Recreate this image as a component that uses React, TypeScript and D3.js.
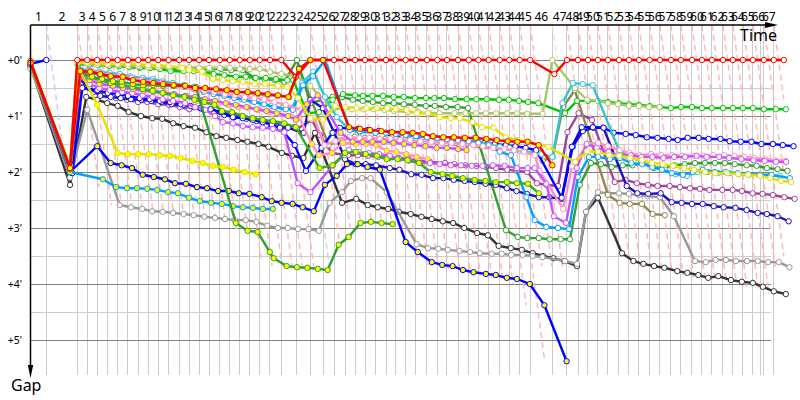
import React from 'react';
import * as d3 from 'd3';

// leader's lap times, minutes
const lapTimes = [
  2.11, 4.13, 1.33, 1.33, 1.39, 1.33, 1.37, 1.37, 1.33, 1.33,
  1.39, 1.41, 1.33, 1.33, 1.33, 1.43, 1.33, 1.33, 1.33, 1.33,
  1.37, 1.52, 2.08, 1.79, 1.68, 1.47, 1.47, 1.33, 1.33, 1.39,
  1.41, 1.29, 1.33, 1.37, 1.47, 1.39, 1.28, 1.47, 1.43, 1.29,
  1.37, 1.47, 1.29, 1.37, 1.4, 2.96, 1.95, 1.47, 1.33, 1.33,
  1.33, 1.47, 1.33, 1.33, 1.43, 1.37, 1.47, 1.33, 1.47, 1.33,
  1.33, 1.47, 1.33, 1.33, 1.33, 1.47, 1.33, 1.33,
];
const lapLabelCount = 67;
const strayGridTime = 97.36;
const gapTicks = [0, 1, 2, 3, 4, 5];
const gapHalfTicks = [0.5, 1.5, 2.5, 3.5, 4.5];
const openingLag = 3.16;
const leaderDashColors: Record<number, string> = { 1: '#ccccff', 23: '#c4e4c4', 46: '#e4eccc' };

const redW = [
  .02, 1.93, 0, 0, 0, 0, 0, 0, 0, 0,
  0, 0, 0, 0, 0, 0, 0, 0, 0, 0,
  0, 0, 0, .3, 0, 0, 0, 0, 0, 0,
  0, 0, 0, 0, 0, 0, 0, 0, 0, 0,
  0, 0, 0, 0, 0, 0, .25, 0, 0, 0,
  0, 0, 0, 0, 0, 0, 0, 0, 0, 0,
  0, 0, 0, 0, 0, 0, 0, 0, 0,
];
const redWLag = [[23, -.15], [24, 0], [46, .27], [47, 0]];

const redY = [
  .05, 1.93, .2, .21, .25, .29, .3, .36, .39, .41,
  .43, .45, .46, .5, .5, .52, .54, .57, .57, .59,
  .61, .63, .66, .16, 0, 0, null, 1.2, 1.23, 1.25,
  1.27, 1.29, 1.29, 1.3, 1.32, 1.36, 1.38, 1.38, 1.39, 1.39,
  1.41, 1.43, 1.45, 1.46, 1.46, 1.52, 1.88,
];
const redYLag = [[2, .4], [6, .67], [12, .8], [15, .93], [18, 1.07], [22, .93], [23, .27], [24, 0], [27, .53], [28, .67], [30, .8], [32, .93], [35, .8], [37, .93], [40, 1.07], [45, 1.13], [46, 0]];

const oliveLight = [
  .16, 1.9, .05, .07, .09, .09, .09, .11, .11, .13,
  .13, .13, .13, .13, .14, .14, .14, .14, .16, .16,
  .16, .21, .25, .29, .46, .71, .89, .86, .88, .88,
  .88, .89, .91, .93, .93, .95, .95, .95, .95, .95,
  .95, .95, .95, .95, .96, .96, 0, .5, .71, .73,
  .77, .79, .82, .82, .84, .84,
];
const oliveLightLag = [[2, 0], [26, -.15], [27, -.4], [29, -.2], [33, .3], [37, 1], [45, 1.67], [46, 0], [47, 1.07], [48, 1.2], [49, 1.33]];

const limeW = [
  .05, 1.9, .07, .07, .07, .07, .09, .09, .13, .14,
  .16, .2, .2, .2, .21, .25, .27, .3, .3, .32,
  .32, .34, .36, .36, .95, .93, .71, .61, .63, .64,
  .64, .64, .66, .66, .68, .68, .68, .68, .7, .7,
  .7, .7, .71, .71, .73, .75, .77, .95, .73, .73,
  .73, .75, .77, .79, .8, .82, .84, .86, .84, .84,
  .86, .86, .86, .86, .86, .86, .88, .88, .88,
];
const limeWLag = [[2, 0], [7, .27], [12, .6], [17, .8], [23, -.5], [24, -.4], [25, -.53], [26, -.2], [27, -.27], [28, 0], [29, -.27], [30, -.4], [32, -.27], [34, -.13], [36, -.4], [39, -.27], [42, -.1], [45, -.3], [46, -1.87], [47, -.27], [48, -.13], [49, 0], [67, .27]];

const limeY = [
  .05, 1.95, .25, .3, .36, .41, .45, .48, .52, .55,
  .59, .63, .66, .71, .75, .8, .91, .93, 1, 1.04,
  1.07, 1.09, 1.13, 1.2, null, 1.93, 1.88, 1.66, 1.64, 1.68,
  1.71, 1.77, 1.77, 1.79, 1.84, 2, 2.04, 2.07, 2.11, 2.14,
  2.16, 2.18, 2.18, 2.2, 2.21, 2.38,
];
const limeYLag = [[2, .4], [6, .6], [12, .7], [16, .3], [18, .4], [23, -.15], [25, -.45], [26, -.2], [27, 0], [28, .1], [30, .2], [31, .1], [32, .25], [34, .4], [35, .5], [36, .7], [38, .65], [39, .8], [40, .95], [43, 1], [44, 1.1], [45, 1.15]];

const darkGreenW = [
  .05, 1.9, .07, .09, .09, .11, .11, .13, .14, .14,
  .16, .16, .16, .16, .16, .16, .16, .18, .18, .32,
  .34, .36, .39, 0, .77, .71, .66, .66, .71, .73,
  .75, .77, .77, .79, .8, .82, .82, .84, .84, .86,
  null, 3.04, 3.16, 3.18, 3.18, 3.2, 3.2, 3.2, 2.23, 1.84,
  1.86, 1.91, 1.88, 1.88, 1.84, 1.93, 1.91, 1.88, 1.86, 1.84,
  1.84, 1.84, 1.84, 1.86, 1.88, 1.89, 1.93, 1.95, 1.98,
];
const darkGreenWLag = [[2, .2], [18, .4], [19, .65], [22, .4], [23, 0], [24, 0], [26, -.2], [27, -.4], [28, -.3], [30, -.35], [31, -.4], [32, -.25], [34, -.15], [36, -.35], [37, -.15], [38, -.05], [39, -.1], [41, 2.3], [42, 2.4], [43, 2.4], [44, 2.55], [45, 2.6], [46, 1.1], [47, .4], [48, .25], [49, .4], [51, .5], [54, .65], [55, .55], [56, .65], [57, .5], [59, .4], [62, .25], [64, .5], [66, .4], [67, .5]];

const darkGreenY = [
  .05, 1.95, .21, .3, .34, .38, .39, .43, .45, .45,
  .46, .46, .46, .48, null, null, null, 2.91, 3.05, 3.07,
  3.43, 3.54, 3.68, 3.7, 3.71, 3.73, 3.75, 3.3, 3.16, 2.91,
  2.89, 2.91, 2.93,
];
const darkGreenYLag = [[2, .3], [3, .65], [5, .7], [6, .55], [7, .65], [11, .7], [12, .65], [13, .9], [17, .8], [18, 1.05], [20, 1.35], [21, .5], [22, .7], [23, 0], [24, -.4], [25, -.7], [26, -.85], [29, -.6], [32, -.4]];

const yellowW = [
  .03, 1.9, .05, .05, .05, .07, .07, .07, .07, .09,
  .09, .11, .14, .18, .21, .34, .36, .38, .39, .43,
  .43, .46, .48, .68, 1.04, 1.07, .82, .84, .86, .86,
  .86, .86, .88, .89, .95, .95, 1.02, 1.04, 1.04, 1.11,
  1.2, 1.21, 1.38, 1.43, 1.46, 1.52, 1.55, 1.82, 1.63, 1.64,
  1.7, 1.71, 1.75, 1.79, 1.84, 1.86, 1.89, 1.93, 1.96, 2,
  2.02, 2.02, 2.04, 2.05, 2.07, 2.11, 2.16, 2.18,
];
const yellowWLag = [[2, 0], [12, .4], [13, 0], [14, .4], [15, .53], [16, .4], [19, .67], [21, 1.07], [22, .8], [23, .13], [24, 0], [26, .13], [27, 0], [28, .2], [32, 0], [33, .13], [36, .3], [37, .5], [38, .25], [39, .5], [41, .65], [42, .8], [43, 1.1], [45, 1.13], [46, -.53], [47, 1.07], [48, 1.2], [49, 1.33], [50, 1.5], [53, 1.75], [61, 2.05], [64, 2.3]];

const yellowY = [
  .05, 1.9, .2, null, .8, null, 1.66, 1.68, 1.68, 1.68,
  1.7, 1.71, 1.75, 1.8, 1.84, 1.89, 1.91, 1.96, 2, 2.04,
];
const yellowYLag = [[2, .4], [4, 0], [9, .1], [10, .2], [13, .4], [14, .5], [16, .4], [17, .5], [18, .65], [19, .8]];

const brown = [
  .1, 1.9, .2, .23, .27, .3, .32, .36, .39, .41,
  .45, .46, .48, .52, .52, .54, .55, .57, .59, .61,
  .63, .64, .66, .14, null, 1.52, 1.43, 1.37, 1.39, 1.39,
  1.41, 1.41, 1.43, 1.43, 1.45, 1.46, 1.48, 1.48, 1.5, 1.52,
  1.54, 1.55, 1.57, 1.61, 1.63, 1.66, 1.8, 1.73, .84, .54,
  null, 2.41, 2.55, 2.57, 2.57, 2.75, 2.77,
];
const brownLag = [[2, .4], [6, .65], [12, .8], [18, 1], [23, .27], [25, .75], [26, 1], [27, 1.3], [36, 1.2], [46, -1.3], [47, -1.9], [48, -2], [49, -1.75], [50, 0], [52, .1], [54, .4], [56, .65]];

const grey = [
  .12, 2.1, .89, null, null, null, 2.59, 2.63, 2.66, 2.7,
  2.71, 2.73, 2.75, 2.77, 2.8, 2.82, 2.84, 2.86, 2.86, 2.89,
  2.96, 3, 3, 3.02, 3.02, 3.05, 2.55, 2.36, 2.16, 2.11,
  2.11, 2.36, null, null, 3.29, 3.36, 3.37, 3.39, 3.41, 3.43,
  3.45, 3.46, 3.46, 3.48, 3.48, 3.5, 3.52, 3.59, 3.64, 2.71,
  2.36, 2.38, 2.38, 2.39, 2.41, 2.43, 2.45, 2.79, null, 3.59,
  3.61, 3.57, 3.57, 3.59, 3.59, 3.59, 3.61, 3.61, 3.7,
];
const greyLag = [[2, 1.33], [6, .27], [7, .4], [8, .53], [10, .6], [14, .7], [15, .8], [16, .7], [18, .8], [19, .9], [20, 1], [21, 1.05], [22, .85], [23, .15], [24, -.25], [25, -.55], [26, -.6], [27, -.4], [28, -.55], [29, -.4], [30, -.65], [31, .1], [35, .13], [38, .2], [41, .4], [42, .27], [44, .4], [45, .33], [46, -1.33], [47, -.27], [48, -.13], [49, -.27], [50, 0], [55, -.27], [56, 0], [57, .4], [60, .53], [61, .5], [62, .4], [64, .55], [65, .65], [66, .55], [67, .65], [68, .75]];

const black = [
  .12, 2.23, .66, .71, .77, .82, .93, 1, 1.04, 1.05,
  1.13, 1.18, 1.21, 1.29, 1.36, 1.39, 1.43, 1.46, 1.5, 1.55,
  1.66, 1.71, 1.75, 1.3, null, null, 2.55, 2.48, 2.59, 2.63,
  2.66, 2.71, 2.75, 2.8, 2.84, 2.88, 2.91, 3, 3.09, 3.13,
  3.32, 3.36, 3.39, 3.45, 3.5, 3.54, 3.59, 3.68, 2.71, 2.46,
  null, null, 3.45, 3.59, 3.64, 3.68, 3.71, 3.77, 3.8, 3.84,
  3.89, 3.86, 3.93, 3.96, 3.98, 4.05, 4.13, 4.18,
];
const blackLag = [[2, 1.2], [3, 1.33], [6, 1.47], [7, 1.73], [8, 1.87], [10, 2], [12, 2.13], [13, 2.3], [16, 2.35], [18, 2.5], [20, 2.95], [23, 2.4], [26, 1.07], [27, 1.5], [28, 1.7], [32, 2], [33, 2.1], [37, 2.3], [38, 2.55], [40, 2.7], [41, 2.95], [43, 3.1], [46, 1.6], [47, 1.33], [48, 1.07], [49, 1.33], [52, .4], [53, .6], [57, .85], [62, 1.07], [63, 1.2], [64, 1.33], [67, 1.6]];

// blue led the opening lap: its first mark sits on the lap 1 line, then the line restarts from the grid
const blueW = [
  0, .07, 2.02, .5, .54, .59, .61, .64, .68, .7,
  .73, .75, .79, .82, .86, .88, .93, 1.02, 1.04, 1.07,
  1.11, 1.16, 1.21, 1.52, 1.98, 1.57, 1.3, 1.21, 1.23, 1.25,
  1.27, 1.3, 1.32, 1.34, 1.36, 1.39, 1.41, 1.43, 1.45, 1.46,
  1.48, 1.5, 1.52, 1.54, 1.57, 1.61, 2.46, 1.55, 1.2, 1.2,
  1.21, 1.3, 1.32, 1.34, 1.38, 1.39, 1.41, 1.43, 1.39, 1.39,
  1.41, 1.41, 1.45, 1.46, 1.46, 1.5, 1.5, 1.52, 1.54,
];
const blueWLag = [[0, 2.11], [1, -2.11], [2, -.67], [4, 0], [8, .2], [17, .4], [21, .25], [22, -.2], [23, -.3], [24, -.6], [25, -.2], [27, -.7], [28, .4], [36, .8], [46, 1.25], [47, .65], [48, .5], [49, .65], [50, .75], [52, .9], [54, 1.05], [56, 1.15], [57, .9], [61, 1.15], [62, .9], [63, 1.05], [64, 1.15], [66, 1.2], [68, 1.3]];

const navy = [
  .05, 2, .34, .5, .64, .66, .68, .7, .71, .73,
  .75, .79, .8, .84, .89, .93, .98, 1.02, 1.05, 1.09,
  1.16, 1.2, 1.21, 1.3, .71, .86, 1.29, 1.77, 1.86, 1.86,
  1.88, 1.93, 1.96, 2.04, 2.05, 2.11, 2.11, 2.14, 2.16, 2.18,
  2.21, 2.23, 2.29, 2.34, 2.39, 2.45, 2.45, 2.48, 1.55, 1.27,
  1.21, 1.21, null, 2.25, 2.38, 2.39, 2.38, 2.54, 2.55, 2.57,
  2.57, 2.61, 2.63, 2.64, 2.68, 2.73, 2.75, 2.79, 2.88,
];
const navyLag = [[2, .3], [4, .4], [12, .6], [18, .9], [24, 0], [28, .1], [31, .5], [33, .75], [35, .8], [37, .9], [39, .8], [40, .95], [45, 1.15], [46, -.4], [47, -.7], [50, -.6], [53, -.3], [54, -.2], [56, .1], [59, 0], [60, .1], [61, .25], [62, .1], [63, .35], [64, .5], [65, .65], [66, .4], [67, .5], [68, .65]];

const blueY = [
  .05, 2, null, null, 1.54, 1.84, 1.88, 1.93, 2.05, 2.09,
  2.13, 2.2, 2.21, 2.27, 2.29, 2.34, 2.34, 2.38, 2.39, 2.45,
  2.52, 2.55, 2.57, 2.63, 2.7, 2.23, 2.07, 1.86, 1.86, 1.91,
  1.96, null, null, 3.25, 3.43, 3.61, 3.66, 3.68, 3.75, 3.79,
  3.82, 3.84, 3.89, 3.91, 4, 4.38, 5.38,
];
const blueYLag = [[4, 0], [5, .4], [6, .53], [8, .6], [9, .75], [10, .9], [11, .85], [12, .9], [13, 1.05], [15, 1.2], [18, 1.3], [19, 1.6], [21, 1.55], [22, 1.5], [23, .75], [24, .45], [25, .25], [26, .35], [27, .25], [28, .35], [30, .6], [33, 0], [34, .25], [35, .65], [37, .75], [38, .65], [40, 1], [41, .95], [43, 1], [44, 1.35], [45, 1.9]];

const purple = [
  .15, 1.95, .48, .57, .63, .68, .71, .75, .75, .79,
  .8, .84, .88, .86, .89, .93, .96, 1, 1.04, 1.07,
  1.11, 1.16, 1.2, 1.23, 1.07, 1.34, 1.66, 1.7, 1.7, 1.71,
  1.73, 1.75, 1.75, 1.77, 1.8, 1.82, 1.84, 1.86, 1.88, 1.89,
  1.91, 1.93, 1.96, 1.98, 2, 2.2, 2.23, 2.25, 1.29, .95,
  1.07, 2.18, 2.14, 2.2, 2.23, 2.25, 2.25, 2.27, 2.29, 2.3,
  2.32, 2.32, 2.32, 2.34, 2.38, 2.39, 2.41, 2.45, 2.48,
];
const purpleLag = [[2, .65], [3, .9], [4, 1], [5, 1.1], [6, 1.25], [7, 1.35], [8, 1.2], [9, 1.35], [10, 1.45], [11, 1.5], [12, 1.35], [13, 1.45], [14, 1.7], [23, 0], [24, .2], [25, -.4], [26, -.3], [27, .4], [36, 1], [45, .9], [46, -.8], [47, -1.2], [48, -1.4], [49, -1.25], [50, -.8], [51, .9], [53, 1.05], [54, 1.2], [55, 1.05], [56, 1.3], [57, 1.2], [59, 1.05], [60, 1], [61, 1.4], [62, 1.3], [63, 1.2], [64, 1.3], [66, 1.2], [67, 1.4], [68, 1.45]];

const magentaW = [
  .05, 1.95, .3, .43, .5, .54, .57, .59, .63, .66,
  .7, .73, .77, .84, .89, 1, 1.11, 1.13, 1.18, 1.2,
  1.21, 1.23, 1.29, 2.2, 2.36, 1.88, 1.7, 1.61, 1.64, 1.66,
  1.68, 1.71, 1.77, 1.8, 1.84, 1.84, 1.86, 1.88, 1.88, 1.89,
  1.89, 1.88, 1.89, 1.93, 1.93, 1.93, 2.21, 2.79, 2.91, 1.93,
  1.5, 1.57, 1.64, 1.7, 1.7, 1.73, 1.73, 1.75, 1.73, 1.73,
  1.71, 1.73, 1.73, 1.75, 1.77, 1.79, 1.8, 1.82, 1.82,
];
const magentaWLag = [[2, .3], [6, .6], [12, .8], [16, .4], [23, .1], [24, 0], [25, 1.33], [26, 1.4], [27, .5], [35, .4], [36, .3], [37, .5], [38, .4], [40, .55], [42, .65], [43, 1], [44, 1.05], [45, .6], [46, -.8], [47, -1.75], [48, -1.6], [49, -1.5], [52, -1.4], [54, -1.1], [56, -1], [58, -.9], [60, -.7], [62, -.5], [64, -.2], [65, .1], [67, .3]];

const magentaY = [
  .05, 1.95, .29, .36, .43, .46, .5, .52, .55, .57,
  .59, .61, .64, .66, .7, .73, .77, .8, .84, .88,
  .91, .95, 1, 1.07, .79, .63, null, 1.3, 1.46, 1.46,
  1.46, 1.46, 1.48, 1.5, 1.52, 1.54, 1.57, 1.57, 1.59, 1.61,
];
const magentaYLag = [[2, .3], [5, .7], [12, .8], [18, .9], [23, -.15], [24, -.5], [25, -.7], [27, -.6], [28, -.3], [30, -.4], [31, -.3], [33, -.2], [36, -.1], [37, 0], [39, -.3]];

const pinkW = [
  .05, 1.95, .2, .2, .23, .27, .29, .32, .36, .39,
  .41, .45, .48, .52, .55, .57, .61, .63, .66, .68,
  .7, .75, .8, .89, 1.04, 1.52, 1.45, 1.38, 1.39, 1.39,
  1.41, 1.41, 1.43, 1.43, 1.45, 1.46, 1.48, 1.48, 1.5, 1.52,
  1.54, 1.57, 1.59, 1.61, 1.64, 1.7, 1.98, 2.66, 1.9, 1.5,
  1.48, 1.54, 1.61, 1.66, 1.7, 1.68, 1.7, 1.7, 1.71, 1.71,
  1.71, 1.7, 1.7, 1.71, 1.73, 1.75, 1.77, 1.79, 1.8,
];
const pinkWLag = [[2, .3], [7, .5], [13, .7], [19, .6], [24, .5], [25, .2], [27, .6], [45, .6], [46, -1.7], [47, -.5], [48, -.8], [49, 0], [52, .1], [55, .2], [66, .2]];

const pinkY = [
  .05, 1.95, .27, .32, .39, .43, .46, .5, .52, .55,
  .57, .61, .64, .73, .75, .77, .8, .84, .86, .89,
  .93, .96, 1, 1.02, 1.5, 1.7, 1.66, 1.48, 1.5, 1.5,
  1.52, 1.62, 1.64, 1.68, 1.73, 1.77,
];
const pinkYLag = [[2, .3], [5, .8], [12, 1.1], [18, 1.2], [23, .3], [24, .2], [25, -.55], [26, -.3], [28, .1]];

const cyan = [
  .05, 1.95, .16, .18, .21, .23, .25, .29, .32, .34,
  .38, .41, .45, .48, .57, .59, .63, .66, .7, .73,
  .77, .82, .86, .86, .41, .21, .66, 1.02, 1.25, 1.29,
  1.29, 1.3, 1.32, 1.34, 1.36, 1.38, 1.39, 1.41, 1.43, 1.45,
  1.46, 1.5, 1.55, 1.57, 1.62, 1.68, 1.73, .77, .41, .43,
  .45, null, 1.61, 1.73, 1.82, 1.91, 1.96, 2.04, 2.07, 2,
  2, 2.02, 2.02, 2.04, 2.05, 2.05, 2.07, 2.07,
];
const cyanLag = [[2, .3], [8, .6], [18, .2], [23, -.6], [24, -1.15], [25, -1.3], [26, -1.2], [27, -1.1], [28, -.7], [30, 0], [45, 1.5], [46, 0], [47, -.6], [48, -.7], [52, 0], [53, .1], [54, .4], [56, .65], [58, .8], [59, .7], [60, .8]];

const skyW = [
  .05, 1.95, .18, .2, .25, .27, .3, .32, .36, .38,
  .41, .45, .48, .52, .55, .61, .64, .68, .71, .75,
  .79, .84, .88, .89, .45, .29, 0, null, 1.25, 1.27,
  1.3, 1.3, 1.32, 1.34, 1.36, 1.38, 1.39, 1.41, 1.43, 1.45,
  1.48, 1.52, 1.64, 1.7, 2.45, 2.86, 2.98, 3, 3.02, 2.09,
  1.73, 1.73, 1.77, 1.75, 1.84, 1.86, 1.91, 1.96, 2.02, 2.05,
  2, 1.96, 2, 2, 2.02, 2.04, 2.05, 2.05, 2.11,
];
const skyWLag = [[2, .3], [8, .6], [23, -.55], [24, -1], [25, -1.35], [26, -1.2], [28, -.7], [30, 0], [43, .2], [44, .9], [45, .6], [46, -.8], [47, -1.2], [49, -1.35], [50, -1.2], [51, -1.3], [52, -1.2], [54, -1], [57, -1.2], [62, -1.1], [63, -1], [64, -.7], [66, -.5], [67, -.3], [68, .8]];

const skyY = [
  .05, 2, null, null, 2.13, 2.27, 2.29, 2.29, 2.3, 2.32,
  2.36, 2.38, 2.46, 2.52, 2.55, 2.57, 2.61, 2.63, 2.64, 2.66,
  2.66,
];
const skyYLag = [[4, .75], [5, 1.1], [6, 1.25], [7, 1.2], [10, 1.3], [11, 1.25], [12, 1.3], [13, 1.45], [14, 1.6], [15, 1.7], [16, 1.75]];

const series = [
  { gaps: black, lags: blackLag, color: '#333333', fill: '#ffffff' },
  { gaps: grey, lags: greyLag, color: '#999999', fill: '#ffffff' },
  { gaps: purple, lags: purpleLag, color: '#a040a0', fill: '#ffffff' },
  { gaps: brown, lags: brownLag, color: '#908850', fill: '#ffffff' },
  { gaps: darkGreenW, lags: darkGreenWLag, color: '#30a030', fill: '#ffffff' },
  { gaps: limeW, lags: limeWLag, color: '#00c800', fill: '#ffffff' },
  { gaps: oliveLight, lags: oliveLightLag, color: '#a8c868', fill: '#ffffff' },
  { gaps: navy, lags: navyLag, color: '#1a10c0', fill: '#ffffff' },
  { gaps: blueY, lags: blueYLag, color: '#0000ff', fill: '#ffff00' },
  { gaps: blueW, lags: blueWLag, color: '#0000ff', fill: '#ffffff', ledOpening: true },
  { gaps: cyan, lags: cyanLag, color: '#30c8d0', fill: '#ffffff' },
  { gaps: skyW, lags: skyWLag, color: '#00a0ff', fill: '#ffffff' },
  { gaps: skyY, lags: skyYLag, color: '#00a0ff', fill: '#ffff00' },
  { gaps: pinkW, lags: pinkWLag, color: '#ff90c0', fill: '#ffffff' },
  { gaps: pinkY, lags: pinkYLag, color: '#ff90c0', fill: '#ffff00' },
  { gaps: magentaW, lags: magentaWLag, color: '#c850ff', fill: '#ffffff' },
  { gaps: magentaY, lags: magentaYLag, color: '#c850ff', fill: '#ffff00' },
  { gaps: limeY, lags: limeYLag, color: '#30b020', fill: '#ffff00' },
  { gaps: darkGreenY, lags: darkGreenYLag, color: '#30a030', fill: '#ffff00' },
  { gaps: yellowW, lags: yellowWLag, color: '#e6e000', fill: '#ffffff' },
  { gaps: yellowY, lags: yellowYLag, color: '#e6e000', fill: '#ffff00' },
  { gaps: redW, lags: redWLag, color: '#ff0000', fill: '#ffffff' },
  { gaps: redY, lags: redYLag, color: '#ff0000', fill: '#ffff00' },
];

const lagAt = (lags: number[][], k: number) => {
  let lag = 0;
  for (const [from, value] of lags) if (from <= k) lag = value;
  return lag;
};

const App: React.FC = () => {
  const width = 800;
  const height = 400;
  const axisTop = 25;
  const bottom = 375;

  const lapEnds = [0, ...d3.cumsum(lapTimes)];
  const x = d3.scaleLinear().domain([0, 100]).range([30.5, 780.5]);
  const y = d3.scaleLinear().domain([0, 5]).range([60, 340]);
  const line = d3.line<[number, number]>().x(d => x(d[0])).y(d => y(d[1]));

  const tracks = series.map(s => ({
    ...s,
    points: s.gaps.flatMap((gap, k) => {
      if (gap === null) return [];
      const lag = k === 1 && !(s as { ledOpening?: boolean }).ledOpening ? openingLag : lagAt(s.lags, k);
      return [[lapEnds[k] + lag, gap] as [number, number]];
    }),
  }));

  // one dashed "lap down" line per lap, stopped at the last car on the road
  const topGap = y.invert(axisTop);
  const dashes = lapEnds.slice(1).map((start, i) => {
    let endTime = start + 1.3;
    for (let j = i + 1; j < lapEnds.length; j++) {
      const deepest = d3.max(series, s => s.gaps[j] ?? undefined) ?? topGap;
      const crossing = start + deepest - topGap;
      if (crossing <= lapEnds[j]) {
        endTime = crossing;
        break;
      }
      endTime = lapEnds[j];
    }
    return { start, endTime, lap: i + 1 };
  });

  return (
    <svg width={width} height={height} style={{ position: 'absolute', left: 0, top: 0, fontFamily: '"Noto Sans", sans-serif' }}>
      <rect width={width} height={height} fill="#ffffff" />

      <g shapeRendering="crispEdges">
        {[...lapEnds.slice(1, lapLabelCount + 1), strayGridTime].map(t => (
          <line key={t} x1={x(t)} x2={x(t)} y1={axisTop} y2={bottom} stroke="#cccccc" strokeWidth={1} />
        ))}
        {gapHalfTicks.map(g => (
          <line key={g} x1={x(0)} x2={771} y1={y(g)} y2={y(g)} stroke="#cccccc" strokeWidth={1} />
        ))}
        {gapTicks.map(g => (
          <line key={g} x1={x(0)} x2={771} y1={y(g)} y2={y(g)} stroke="#808080" strokeWidth={1} />
        ))}
      </g>

      {dashes.map(d => (
        <line
          key={d.lap}
          x1={x(d.start)}
          y1={axisTop}
          x2={x(d.endTime)}
          y2={y(topGap + d.endTime - d.start)}
          stroke={leaderDashColors[d.lap] ?? '#ffb8b8'}
          strokeWidth={1.5}
          strokeDasharray="6,4"
        />
      ))}

      {tracks.map((t, i) => (
        <g key={i}>
          <path d={line(t.points) ?? ''} fill="none" stroke={t.color} strokeWidth={2.4} strokeLinejoin="round" />
          {t.points.map((p, j) => (
            <circle key={j} cx={x(p[0])} cy={y(p[1])} r={2.7} fill={t.fill} stroke={t.color} strokeWidth={1} />
          ))}
        </g>
      ))}

      <line x1={x(0)} x2={x(0)} y1={axisTop} y2={368} stroke="#000000" strokeWidth={1.5} />
      <path d="M27.8,365L33.2,365L30.5,378Z" fill="#000000" />
      <line x1={x(0)} x2={766} y1={axisTop} y2={axisTop} stroke="#000000" strokeWidth={1.5} />
      <path d="M765,22L765,28L778,25Z" fill="#000000" />

      {d3.range(1, lapLabelCount + 1).map(n => (
        <text key={n} x={x((lapEnds[n - 1] + lapEnds[n]) / 2)} y={21} fontSize={12} textAnchor="middle" fill="#000000">{n}</text>
      ))}
      {gapTicks.map(g => (
        <text key={g} x={15} y={y(g) + 3.5} fontSize={10.5} textAnchor="middle" fill="#000000">{`+${g}'`}</text>
      ))}
      <text x={777} y={41} fontSize={16} textAnchor="end" fill="#000000">Time</text>
      <text x={11} y={391} fontSize={16} fill="#000000">Gap</text>
    </svg>
  );
};

export default App;
